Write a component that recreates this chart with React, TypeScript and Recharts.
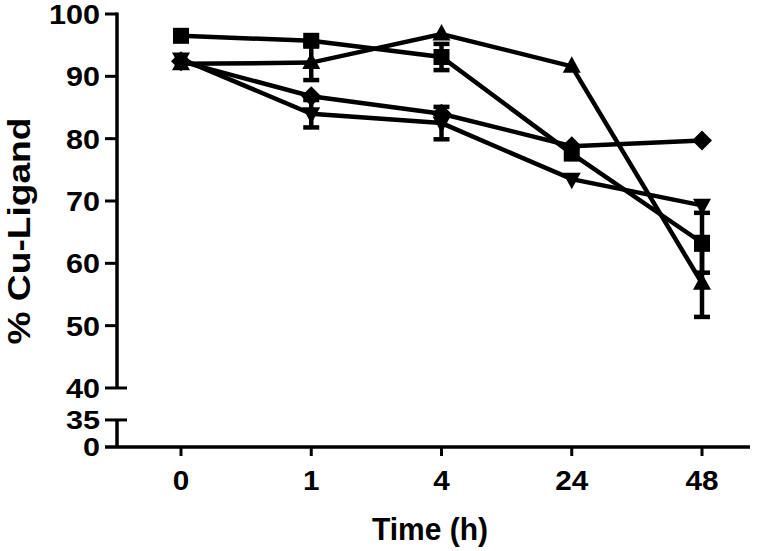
import React from 'react';
import { LineChart, Line, XAxis, YAxis, ErrorBar } from 'recharts';

// time points (h)
const times = ['0', '1', '4', '24', '48'];

// % Cu-Ligand per series
const squareVals = [96.5, 95.7, 93.1, 77.6, 63.3];
const squareErr = [null, null, 2.1, null, 4.8];
const triUpVals = [92.0, 92.2, 96.8, 91.6, 56.8];
const triUpErr = [null, 2.8, null, null, 5.4];
const diamondVals = [92.4, 86.8, 84.0, 78.8, 79.7];
const triDownVals = [92.8, 84.0, 82.5, 73.5, 69.3];
const triDownErr = [null, 2.2, 2.6, null, null];

// broken y axis: 0 and 35 are squeezed under 40
const Y_ZERO = 30.53;
const Y_35 = 34.87;
const yTicks = [Y_ZERO, Y_35, 40, 50, 60, 70, 80, 90, 100];
const yTickLabels = ['0', '35', '40', '50', '60', '70', '80', '90', '100'];

const W = 770;
const H = 551;
const M = { top: 14, right: 20, bottom: 44, left: 0 };
const Y_AXIS_W = 117;
const X_AXIS_H = 60;
const PLOT_H = H - M.top - M.bottom - X_AXIS_H;
const PX = PLOT_H / (100 - Y_ZERO);
const AX = M.left + Y_AXIS_W;
const FONT = '"Liberation Sans", Arial, sans-serif';

const data = times.map((t, i) => ({
  time: t,
  sq: squareVals[i],
  sqErr: squareErr[i],
  up: triUpVals[i],
  upErr: triUpErr[i],
  dia: diamondVals[i],
  down: triDownVals[i],
  downErr: triDownErr[i],
}));

const YTick = (props: any) => {
  const { y, payload, index } = props;
  const v = payload.value;
  const label = yTickLabels[index] ?? '';
  const both = v === 40 || v === Y_35;
  const small = v === Y_ZERO || v === Y_35;
  let axisSeg = null;
  if (v === 100) axisSeg = <line x1={AX} x2={AX} y1={y - 1.5} y2={y + 60 * PX} stroke="#000" strokeWidth={3.5} />;
  if (v === Y_35) axisSeg = <line x1={AX} x2={AX} y1={y} y2={y + (Y_35 - Y_ZERO) * PX} stroke="#000" strokeWidth={3.5} />;
  return (
    <g>
      {axisSeg}
      {v === Y_ZERO ? (
        <line x1={AX - 12} x2={W - M.right} y1={y} y2={y} stroke="#000" strokeWidth={3.5} />
      ) : (
        <line x1={AX - 12} x2={both ? AX + 10 : AX} y1={y} y2={y} stroke="#000" strokeWidth={3} />
      )}
      <text
        x={100}
        y={y + (small ? 9 : 10)}
        textAnchor="end"
        fontFamily={FONT}
        fontWeight="bold"
        fontSize={small ? 26 : 28}
        textLength={label.length * 17}
        lengthAdjust="spacingAndGlyphs"
        fill="#000"
      >
        {label}
      </text>
    </g>
  );
};

const XTick = (props: any) => {
  const { x, y, payload } = props;
  const label = String(payload.value);
  return (
    <text
      x={x}
      y={y + 32}
      textAnchor="middle"
      fontFamily={FONT}
      fontWeight="bold"
      fontSize={28}
      textLength={label.length * 16.5}
      lengthAdjust="spacingAndGlyphs"
      fill="#000"
    >
      {label}
    </text>
  );
};

const Square = (p: any) => <rect key={p.key} x={p.cx - 8} y={p.cy - 8} width={16} height={16} fill="#000" />;
const TriUp = (p: any) => (
  <polygon key={p.key} points={`${p.cx},${p.cy - 10} ${p.cx - 9},${p.cy + 6.5} ${p.cx + 9},${p.cy + 6.5}`} fill="#000" />
);
const TriDown = (p: any) => (
  <polygon key={p.key} points={`${p.cx},${p.cy + 10} ${p.cx - 9},${p.cy - 6.5} ${p.cx + 9},${p.cy - 6.5}`} fill="#000" />
);
const Diamond = (p: any) => (
  <polygon key={p.key} points={`${p.cx},${p.cy - 10} ${p.cx + 10},${p.cy} ${p.cx},${p.cy + 10} ${p.cx - 10},${p.cy}`} fill="#000" />
);

export default function App() {
  return (
    <div style={{ position: 'absolute', left: 0, top: 0, width: W, height: H, background: '#fff' }}>
      <LineChart width={W} height={H} data={data} margin={M}>
        <XAxis
          dataKey="time"
          height={X_AXIS_H}
          padding={{ left: 64, right: 48 }}
          axisLine={false}
          tickLine={{ stroke: '#000', strokeWidth: 3 }}
          tickSize={9}
          tick={<XTick />}
          interval={0}
          label={{
            content: () => (
              <text
                x={430}
                y={540}
                textAnchor="middle"
                fontFamily={FONT}
                fontWeight="bold"
                fontSize={32}
                textLength={116}
                lengthAdjust="spacingAndGlyphs"
                fill="#000"
              >
                Time (h)
              </text>
            ),
          }}
        />
        <YAxis
          type="number"
          domain={[Y_ZERO, 100]}
          ticks={yTicks}
          width={Y_AXIS_W}
          axisLine={false}
          tickLine={false}
          tick={<YTick />}
          interval={0}
          allowDataOverflow
          label={{
            content: () => (
              <text
                x={30}
                y={231}
                transform="rotate(-90 30 231)"
                textAnchor="middle"
                fontFamily={FONT}
                fontWeight="bold"
                fontSize={32}
                textLength={227}
                lengthAdjust="spacingAndGlyphs"
                fill="#000"
              >
                % Cu-Ligand
              </text>
            ),
          }}
        />
        <Line dataKey="dia" stroke="#000" strokeWidth={4.5} dot={Diamond} activeDot={false} isAnimationActive={false} />
        <Line dataKey="down" stroke="#000" strokeWidth={4.5} dot={TriDown} activeDot={false} isAnimationActive={false}>
          <ErrorBar dataKey="downErr" direction="y" width={8} stroke="#000" strokeWidth={4.5} />
        </Line>
        <Line dataKey="up" stroke="#000" strokeWidth={4.5} dot={TriUp} activeDot={false} isAnimationActive={false}>
          <ErrorBar dataKey="upErr" direction="y" width={8} stroke="#000" strokeWidth={4.5} />
        </Line>
        <Line dataKey="sq" stroke="#000" strokeWidth={4.5} dot={Square} activeDot={false} isAnimationActive={false}>
          <ErrorBar dataKey="sqErr" direction="y" width={8} stroke="#000" strokeWidth={4.5} />
        </Line>
      </LineChart>
    </div>
  );
}
